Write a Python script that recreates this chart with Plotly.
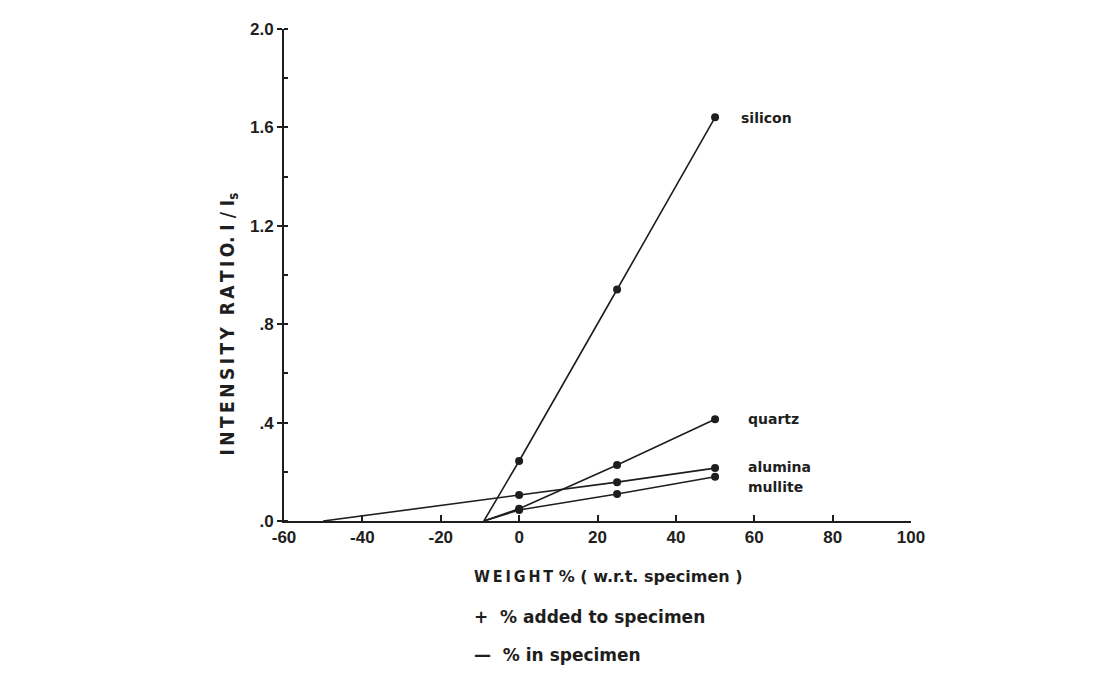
import plotly.graph_objects as go

# ---- data ----
weight_pct = [0, 25, 50]
silicon = [0.244, 0.941, 1.641]
quartz = [0.05, 0.228, 0.414]
alumina = [0.106, 0.158, 0.215]
mullite = [0.045, 0.11, 0.18]

# extrapolated x-intercepts (line drawn back to the axis)
silicon_x0 = -9
quartz_x0 = -9
alumina_x0 = -50
mullite_x0 = -9

series = [
    ("silicon", silicon, silicon_x0),
    ("quartz", quartz, quartz_x0),
    ("alumina", alumina, alumina_x0),
    ("mullite", mullite, mullite_x0),
]

label_pos = {"silicon": (56.0, 1.64), "quartz": (57.8, 0.416),
             "alumina": (57.8, 0.218), "mullite": (57.8, 0.14)}

x_ticks = [-60, -40, -20, 0, 20, 40, 60, 80, 100]
y_ticks = [0, 0.4, 0.8, 1.2, 1.6, 2.0]
y_ticktext = [".0", ".4", ".8", "1.2", "1.6", "2.0"]

INK = "#1e1e1e"
FONT = "Liberation Sans, Arial, sans-serif"
WIDE = "DejaVu Sans, sans-serif"
COND = "DejaVu Sans Condensed, DejaVu Sans, sans-serif"
TS = "\u2009"  # thin space: the scan's condensed capitals are widely letter-spaced
NB = "&nbsp;"


def spaced(word):
    return TS.join(word)


fig = go.Figure()
for name, vals, x0 in series:
    fig.add_trace(go.Scatter(
        x=[x0] + weight_pct, y=[0] + vals, mode="lines",
        line=dict(color=INK, width=1.6), hoverinfo="skip", showlegend=False))
    fig.add_trace(go.Scatter(
        x=weight_pct, y=vals, mode="markers", name=name,
        marker=dict(color=INK, size=8), showlegend=False))
    lx, ly = label_pos[name]
    fig.add_annotation(x=lx, y=ly, xref="x", yref="y", text="<b>%s</b>" % name,
                       showarrow=False, xanchor="left", yanchor="middle",
                       font=dict(family=WIDE, size=14, color=INK))

fig.update_xaxes(range=[-60, 100], tickvals=x_ticks,
                 ticktext=["<b>%d</b>" % v for v in x_ticks],
                 showline=True, linecolor=INK, linewidth=2,
                 ticks="inside", ticklen=6, tickcolor=INK, tickwidth=1.5,
                 showgrid=False, zeroline=False,
                 tickfont=dict(family=FONT, size=17, color=INK))
fig.update_yaxes(range=[0, 2.0], tickvals=y_ticks,
                 ticktext=["<b>%s</b>" % t for t in y_ticktext],
                 showline=True, linecolor=INK, linewidth=2,
                 ticks="outside", ticklen=5, tickcolor=INK, tickwidth=1.5,
                 minor=dict(dtick=0.2, ticks="inside", ticklen=4, tickcolor=INK),
                 showgrid=False, zeroline=False,
                 tickfont=dict(family=FONT, size=17, color=INK))

ytitle = (spaced("INTENSITY") + NB + NB + spaced("RATIO") + "." + NB + "I" + NB + "/" + NB
          + "I<sub>s</sub>")
fig.add_annotation(x=-0.112, y=0.40, xref="paper", yref="paper",
                   text="<b>%s</b>" % ytitle, textangle=-90,
                   showarrow=False,
                   font=dict(family=COND, size=19, color=INK))
fig.add_annotation(x=0.30, y=-0.112, xref="paper", yref="paper",
                   text=("<b><span style='font-family:DejaVu Sans Condensed, DejaVu Sans'>%s</span>"
                         + NB + "%%" + NB + "(" + NB + "w.r.t." + NB + "specimen" + NB + ")</b>")
                   % spaced("WEIGHT"),
                   showarrow=False,
                   xanchor="left", yanchor="middle",
                   font=dict(family=WIDE, size=16, color=INK))
fig.add_annotation(x=0.30, y=-0.195, xref="paper", yref="paper",
                   text="<b>+" + NB + NB + "%" + NB + "added" + NB + "to" + NB + "specimen</b>",
                   showarrow=False,
                   xanchor="left", yanchor="middle",
                   font=dict(family=WIDE, size=17, color=INK))
fig.add_annotation(x=0.30, y=-0.272, xref="paper", yref="paper",
                   text="<b>—" + NB + NB + "%" + NB + "in" + NB + "specimen</b>",
                   showarrow=False,
                   xanchor="left", yanchor="middle",
                   font=dict(family=WIDE, size=17, color=INK))

# page body has an 8px margin: compensate so the plot lands where the reference's does
fig.update_layout(width=1081, height=659,
                  margin=dict(l=276, r=178, t=15, b=146),
                  plot_bgcolor="white", paper_bgcolor="white",
                  showlegend=False)

fig.write_html("out.html")
